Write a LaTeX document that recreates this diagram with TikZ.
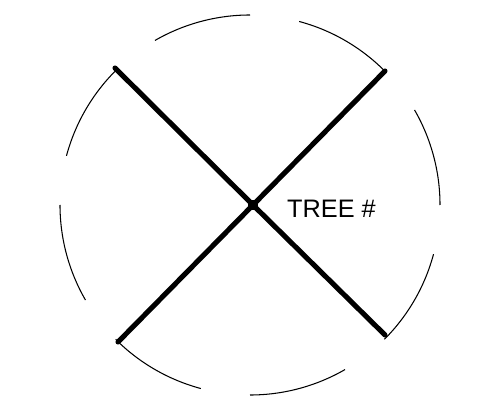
\documentclass[tikz,border=0pt]{standalone}
\usepackage{fontspec}
\setmainfont{Liberation Sans}
\usetikzlibrary{positioning,calc}

\begin{document}
\begin{tikzpicture}[
    crown/.style={draw=black, line width=0.6pt},
    limb/.style={draw=black, line width=2.9pt, line cap=round},
    trunk/.style={rectangle, fill=black, inner sep=0pt, minimum size=6pt},
    tag/.style={font=\fontsize{14.4}{17}\selectfont, inner sep=0pt}
]
\useasboundingbox (-5,-4.22) rectangle (4.68,4.1);

% Crown outline (broken circle)
\foreach \a in {0,45,...,315}
    \draw[crown] (\a:3.8) arc[start angle=\a, end angle=\a+30, radius=3.8];

% Tree
\node[trunk] (tree) at (0.06,0) {};
\coordinate (nw) at (-2.70,2.74);
\coordinate (se) at (2.70,-2.60);
\coordinate (ne) at (2.70,2.68);
\coordinate (sw) at (-2.64,-2.74);
\draw[limb] (nw) -- (tree.center) -- (se);
\draw[limb] (ne) -- (tree.center) -- (sw);

% Label
\node[tag] (treeno) at (1.63,-0.08) {TREE \#};
\end{tikzpicture}
\end{document}
